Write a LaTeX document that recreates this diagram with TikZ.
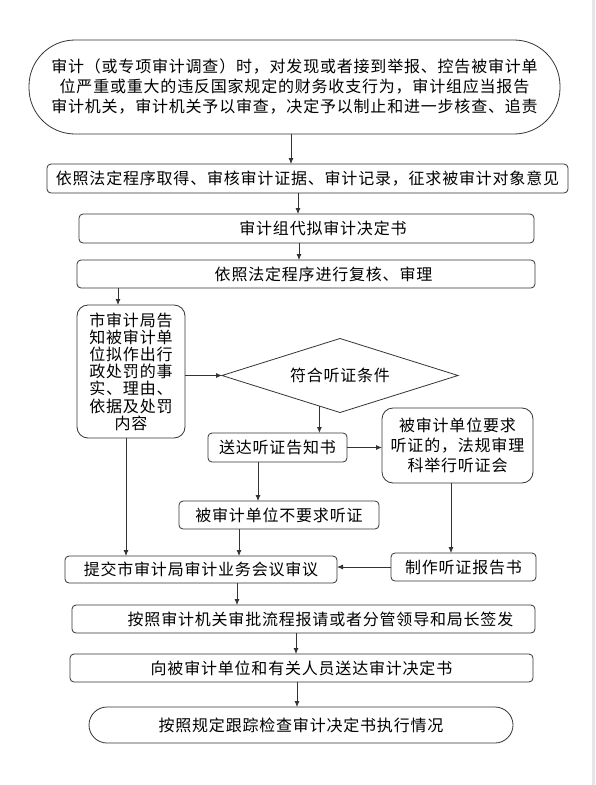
\documentclass[tikz,border=0pt]{standalone}
\usepackage{fontspec}
\setmainfont{Noto Sans CJK SC}[LetterSpace=5]
\usetikzlibrary{arrows.meta,shapes.geometric,calc}
\definecolor{edge}{HTML}{333333}
\definecolor{strip}{HTML}{E6E6E6}
\begin{document}
\begin{tikzpicture}[x=1pt,y=-1pt,
  every node/.style={font=\fontsize{16}{20}\selectfont, inner sep=0pt, outer sep=0pt, text=black},
  box/.style={draw=edge, line width=0.8pt, rounded corners=4pt, align=center},
  rbox/.style={box, rounded corners=11pt},
  arr/.style={draw=edge, line width=0.8pt, -{Latex[length=6pt,width=5pt]}}]
\useasboundingbox (0,0) rectangle (595,785);
\fill[strip] (591.5,0) rectangle (595,785);

\node[box, rounded corners=46pt, minimum width=531pt, minimum height=94pt] (top) at (294.5,87)
  {审计（或专项审计调查）时，对发现或者接到举报、控告被审计单\\位严重或重大的违反国家规定的财务收支行为，审计组应当报告\\审计机关，审计机关予以审查，决定予以制止和进一步核查、追责};
\node[box, minimum width=521pt, minimum height=29pt] (b2) at (307.5,178.5)
  {依照法定程序取得、审核审计证据、审计记录，征求被审计对象意见};
\node[box, minimum width=455pt, minimum height=29pt] (b3) at (306.5,228.5)
  {\hspace*{33pt}审计组代拟审计决定书};
\node[box, minimum width=458pt, minimum height=28pt] (b4) at (306,274)
  {\hspace*{35pt}依照法定程序进行复核、审理};
\node[rbox, minimum width=108pt, minimum height=133pt, font=\fontsize{16}{17.2}\selectfont] (b5) at (131,371.5)
  {市审计局告\\知被审计单\\位拟作出行\\政处罚的事\\实、理由、\\依据及处罚\\内容};
\node[diamond, aspect=3.19, draw=edge, line width=0.8pt, minimum width=236pt, minimum height=74pt] (dia) at (340,375.5)
  {符合听证条件};
\node[box, minimum width=139pt, minimum height=29pt] (sd) at (277.5,447.5)
  {送达听证告知书};
\node[rbox, minimum width=151pt, minimum height=75pt] (hz) at (457.5,445.5)
  {被审计单位要求\\听证的，法规审理\\科举行听证会};
\node[box, minimum width=200pt, minimum height=28pt] (bu) at (279,515)
  {被审计单位不要求听证};
\node[box, minimum width=272pt, minimum height=27pt] (tj) at (201,569.5)
  {提交市审计局审计业务会议审议};
\node[box, minimum width=145pt, minimum height=28pt] (zz) at (463.5,567)
  {制作听证报告书};
\node[box, minimum width=463pt, minimum height=28pt] (sp) at (303.5,619)
  {\hspace*{34pt}按照审计机关审批流程报请或者分管领导和局长签发};
\node[box, minimum width=463pt, minimum height=28pt] (sd2) at (301.5,668)
  {向被审计单位和有关人员送达审计决定书};
\node[box, rounded corners=18pt, minimum width=424pt, minimum height=36pt] (fin) at (301,725)
  {按照规定跟踪检查审计决定书执行情况};

\draw[arr] ([xshift=-3.5pt]top.south) -- ([xshift=-3.5pt]top.south |- b2.north);
\draw[arr] ([xshift=-9.5pt]b2.south) -- ([xshift=-9.5pt]b2.south |- b3.north);
\draw[arr] ([xshift=-7.5pt]b3.south) -- ([xshift=-7.5pt]b3.south |- b4.north);
\draw[arr] ([xshift=-13pt]b5.north |- b4.south) -- ([xshift=-13pt]b5.north);
\draw[arr] (b5.east |- dia.west) -- (dia.west);
\draw[arr] (dia.236.9) -- (dia.236.9 |- sd.north);
\draw[arr] (sd.east) -- (sd.east -| hz.west);
\draw[arr] ([xshift=-19.5pt]sd.south) -- ([xshift=-19.5pt]sd.south |- bu.north);
\draw[arr] ([xshift=-40pt]bu.south) -- ([xshift=-40pt]bu.south |- tj.north);
\draw[arr] ([xshift=-5pt]b5.south) -- ([xshift=-5pt]b5.south |- tj.north);
\draw[arr] ([xshift=-6.5pt]hz.south) -- ([xshift=-6.5pt]hz.south |- zz.north);
\draw[arr] (zz.west) -- (zz.west -| tj.east);
\draw[arr] ([xshift=36pt]tj.south) -- ([xshift=36pt]tj.south |- sp.north);
\draw[arr] ([xshift=-7.5pt]sp.south) -- ([xshift=-7.5pt]sp.south |- sd2.north);
\draw[arr] ([xshift=-4.5pt]sd2.south) -- ([xshift=-4.5pt]sd2.south |- fin.north);
\end{tikzpicture}
\end{document}
